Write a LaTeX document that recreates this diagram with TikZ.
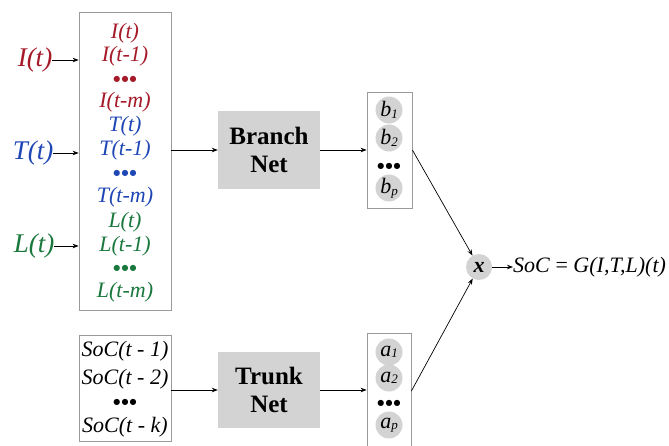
\documentclass[tikz,border=0pt]{standalone}
\usepackage{fontspec}
\setmainfont{Liberation Serif}
\newfontfamily\dotfont{DejaVu Sans}
\usetikzlibrary{arrows.meta}
\definecolor{cred}{RGB}{165,25,40}
\definecolor{cblue}{RGB}{30,70,180}
\definecolor{cgreen}{RGB}{25,120,60}
\definecolor{boxgray}{RGB}{211,211,211}
\definecolor{edgegray}{RGB}{155,155,155}
\newcommand{\dotrow}{●\kern1.2pt●\kern1.2pt●}
\newcommand{\sbs}[2]{#1\raisebox{-1.5pt}{\fontsize{13}{13}\selectfont #2}}
\begin{document}
\begin{tikzpicture}[x=1pt,y=-1pt,
 txt/.style={font=\fontsize{22}{22}\selectfont\itshape, inner sep=0pt},
 big/.style={font=\fontsize{27}{27}\selectfont\itshape, inner sep=0pt},
 frame/.style={draw=edgegray, line width=0.8pt, inner sep=0pt},
 net/.style={fill=boxgray, font=\fontsize{25}{28}\selectfont\bfseries, align=center, inner sep=0pt},
 coef/.style={circle, fill=boxgray, minimum size=27pt, inner sep=0pt, font=\fontsize{22}{22}\selectfont\itshape},
 arr/.style={-{Stealth[length=6pt,width=4.5pt]}, line width=0.7pt},
 dotsn/.style={font=\dotfont\fontsize{8}{8}\selectfont, inner sep=0pt}]
\useasboundingbox (0,0) rectangle (669,445);
% frames
\node[frame, minimum width=92pt, minimum height=298pt] (inbox) at (125,161) {};
\node[frame, minimum width=92pt, minimum height=106pt] (socbox) at (125,388) {};
\node[frame, minimum width=45pt, minimum height=116pt] (bbox) at (389.5,150) {};
\node[frame, minimum width=44pt, minimum height=116pt] (abox) at (389,391) {};
% nets
\node[net, minimum width=102pt, minimum height=78pt] (branch) at (269,150) {Branch\\Net};
\node[net, minimum width=102pt, minimum height=76pt] (trunk) at (269,390) {Trunk\\Net};
% input column
\node[txt, text=cred] (i0) at (125,33) {I(t)};
\node[txt, text=cred] (i1) at (125,56) {I(t-1)};
\node[dotsn, text=cred] (id) at (125,79) {\dotrow};
\node[txt, text=cred] (im) at (125,102) {I(t-m)};
\node[txt, text=cblue] (t0) at (125,126) {T(t)};
\node[txt, text=cblue] (t1) at (125,150) {T(t-1)};
\node[dotsn, text=cblue] (td) at (125,173) {\dotrow};
\node[txt, text=cblue] (tm) at (125,197) {T(t-m)};
\node[txt, text=cgreen] (l0) at (125,222) {L(t)};
\node[txt, text=cgreen] (l1) at (125,246) {L(t-1)};
\node[dotsn, text=cgreen] (ld) at (125,268) {\dotrow};
\node[txt, text=cgreen] (lm) at (125,292) {L(t-m)};
% left labels
\node[big, text=cred] (I) at (35,60) {I(t)};
\node[big, text=cblue] (T) at (33,153) {T(t)};
\node[big, text=cgreen] (L) at (34,246) {L(t)};
\draw[arr] (I.east) -- (I.east -| inbox.west);
\draw[arr] (T.east) -- (T.east -| inbox.west);
\draw[arr] (L.east) -- (L.east -| inbox.west);
% soc history
\node[txt] (s1) at (125,351) {SoC(t - 1)};
\node[txt] (s2) at (125,379) {SoC(t - 2)};
\node[dotsn] (sd) at (125,402) {\dotrow};
\node[txt] (sk) at (125,427) {SoC(t - k)};
% coefficients
\node[coef] (b1) at (389,110) {\sbs{b}{1}};
\node[coef] (b2) at (389,138) {\sbs{b}{2}};
\node[dotsn] (bd) at (389,166) {\dotrow};
\node[coef] (bp) at (389,188) {\sbs{b}{p}};
\node[coef] (a1) at (389,352) {\sbs{a}{1}};
\node[coef] (a2) at (389,378) {\sbs{a}{2}};
\node[dotsn] (ad) at (389,403) {\dotrow};
\node[coef] (ap) at (389,425) {\sbs{a}{p}};
% product
\node[circle, fill=boxgray, minimum size=26pt, inner sep=0pt, font=\fontsize{22}{22}\selectfont\bfseries\itshape] (x) at (479,267) {x};
\node[txt, anchor=west] (out) at (513,267) {SoC \textup{=} G(I,T,L)(t)};
% connectors
\draw[arr] (branch.west -| inbox.east) -- (branch.west);
\draw[arr] (branch.east) -- (branch.east -| bbox.west);
\draw[arr] (trunk.west -| socbox.east) -- (trunk.west);
\draw[arr] (trunk.east) -- (trunk.east -| abox.west);
\draw[arr] (bbox.east) -- (x);
\draw[arr] (abox.east) -- (x);
\draw[arr] (x) -- (out);
\end{tikzpicture}
\end{document}
